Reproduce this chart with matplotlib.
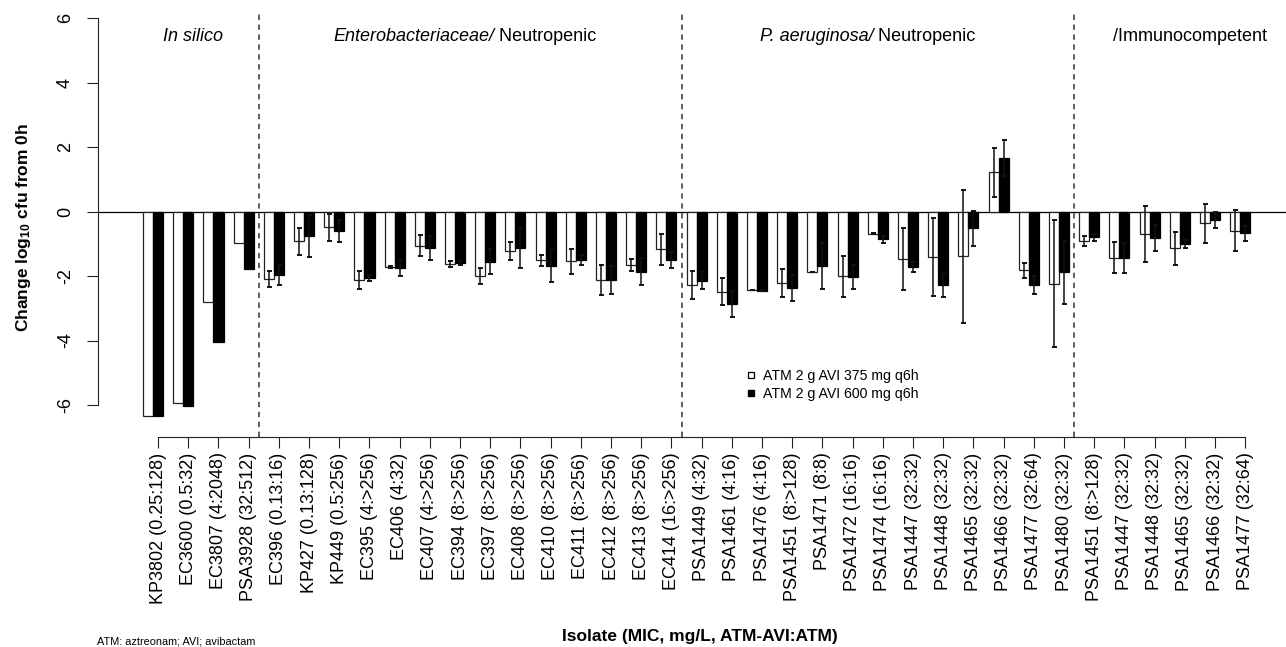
import matplotlib
matplotlib.use("Agg")
import matplotlib.pyplot as plt
from matplotlib.lines import Line2D
import numpy as np

plt.rcParams["font.family"] = ["Liberation Sans", "DejaVu Sans"]
plt.rcParams["mathtext.fontset"] = "custom"
plt.rcParams["mathtext.rm"] = "Liberation Sans"
plt.rcParams["mathtext.it"] = "Liberation Sans:italic"
plt.rcParams["mathtext.bf"] = "Liberation Sans:bold"
plt.rcParams["axes.unicode_minus"] = False

# isolate labels (MIC, mg/L, ATM-AVI:ATM)
isolates = [
    "KP3802 (0.25:128)", "EC3600 (0.5:32)", "EC3807 (4:2048)", "PSA3928 (32:512)",
    "EC396 (0.13:16)", "KP427 (0.13:128)", "KP449 (0.5:256)", "EC395 (4:>256)",
    "EC406 (4:32)", "EC407 (4:>256)", "EC394 (8:>256)", "EC397 (8:>256)",
    "EC408 (8:>256)", "EC410 (8:>256)", "EC411 (8:>256)", "EC412 (8:>256)",
    "EC413 (8:>256)", "EC414 (16:>256)",
    "PSA1449 (4:32)", "PSA1461 (4:16)", "PSA1476 (4:16)", "PSA1451 (8:>128)",
    "PSA1471 (8:8)", "PSA1472 (16:16)", "PSA1474 (16:16)", "PSA1447 (32:32)",
    "PSA1448 (32:32)", "PSA1465 (32:32)", "PSA1466 (32:32)", "PSA1477 (32:64)",
    "PSA1480 (32:32)",
    "PSA1451 (8:>128)", "PSA1447 (32:32)", "PSA1448 (32:32)", "PSA1465 (32:32)",
    "PSA1466 (32:32)", "PSA1477 (32:64)",
]

# ATM 2 g AVI 375 mg q6h
avi375 = [-6.35, -5.93, -2.81, -0.96,
          -2.10, -0.92, -0.49, -2.12, -1.72, -1.06, -1.62, -2.00, -1.21, -1.51,
          -1.54, -2.13, -1.66, -1.17,
          -2.28, -2.49, -2.43, -2.22, -1.88, -2.00, -0.68, -1.46, -1.41, -1.38,
          1.22, -1.82, -2.23,
          -0.91, -1.43, -0.69, -1.14, -0.36, -0.59]
sd375 = [np.nan, np.nan, np.nan, np.nan,
         0.25, 0.41, 0.43, 0.28, 0.02, 0.33, 0.10, 0.24, 0.28, 0.18,
         0.39, 0.46, 0.18, 0.47,
         0.43, 0.42, 0.0, 0.43, 0.0, 0.64, 0.02, 0.96, 1.22, 2.06,
         0.76, 0.24, 1.97,
         0.15, 0.48, 0.88, 0.52, 0.60, 0.64]

# ATM 2 g AVI 600 mg q6h
avi600 = [-6.35, -6.02, -4.03, -1.77,
          -1.98, -0.75, -0.60, -2.05, -1.74, -1.12, -1.59, -1.55, -1.12, -1.69,
          -1.50, -2.12, -1.86, -1.50,
          -2.14, -2.86, -2.45, -2.37, -1.68, -2.04, -0.86, -1.72, -2.28, -0.52,
          1.67, -2.28, -1.88,
          -0.80, -1.43, -0.81, -1.00, -0.26, -0.67]
sd600 = [np.nan, np.nan, np.nan, np.nan,
         0.31, 0.65, 0.33, 0.10, 0.25, 0.38, 0.06, 0.38, 0.62, 0.50,
         0.16, 0.42, 0.41, 0.26,
         0.27, 0.41, 0.02, 0.39, 0.72, 0.37, 0.11, 0.15, 0.36, 0.54,
         0.55, 0.29, 0.98,
         0.11, 0.47, 0.41, 0.12, 0.26, 0.23]

# panel titles: (x centre, italic part, upright part)
group_titles = [
    (6, "In silico", ""),
    (33, "Enterobacteriaceae/", " Neutropenic"),
    (73, "P. aeruginosa/", " Neutropenic"),
    (105, "", "/Immunocompetent"),
]
group_breaks = [4, 18, 31]  # first isolate of each new panel

W, H = 1286, 647
fig = plt.figure(figsize=(W / 100, H / 100), dpi=100)
ax = fig.add_axes([98.3 / W, 1 - 437.2 / H, (1305 - 98.3) / W, (437.2 - 2.3) / H])

n = len(isolates)
idx = np.arange(n)
x_lo = 1.5 + 3 * idx
x_hi = 2.5 + 3 * idx

ax.bar(x_lo, avi375, width=1.0, color="white", edgecolor="#222222", linewidth=0.9, zorder=2)
ax.bar(x_hi, avi600, width=1.0, color="black", edgecolor="black", linewidth=0.9, zorder=2)

m = ~np.isnan(np.array(sd375))
ekw = dict(fmt="none", ecolor="#111111", elinewidth=1.1, capsize=1.8, capthick=1.4, zorder=3)
ax.errorbar(x_lo[m], np.array(avi375)[m], yerr=np.array(sd375)[m], **ekw)
ax.errorbar(x_hi[m], np.array(avi600)[m], yerr=np.array(sd600)[m], **ekw)

ax.axhline(0, color="black", linewidth=0.9, zorder=1)
ax.vlines([3 * b + 0.5 for b in group_breaks], -7.0, 6.15, color="#333333", linewidth=1.1,
          linestyle=(0, (3.5, 3)), zorder=1)

ax.set_xlim(-3.44, 116.44)
ax.set_ylim(-7.0, 6.5)

for s in ["top", "right"]:
    ax.spines[s].set_visible(False)
ax.spines["left"].set_bounds(-6, 6)
ax.spines["bottom"].set_bounds(x_hi[0], x_hi[-1])
for s in ["left", "bottom"]:
    ax.spines[s].set_linewidth(0.8)
    ax.spines[s].set_color("#222222")

ax.set_yticks(np.arange(-6, 7, 2))
ax.set_yticklabels([str(v) for v in range(-6, 7, 2)])
ax.set_xticks(x_hi)
ax.set_xticklabels(isolates, rotation=90, ha="center", va="top")
ax.tick_params(axis="x", length=8, width=0.8, pad=3, labelsize=13, color="#222222")
ax.tick_params(axis="y", length=8, width=0.8, pad=9.5, labelsize=13, color="#222222")
for lab in ax.get_yticklabels():
    lab.set_rotation(90)
    lab.set_va("center")

# panel titles, italic + upright pieces laid side by side and centred
fig.canvas.draw()
renderer = fig.canvas.get_renderer()
for xc, it_txt, rm_txt in group_titles:
    x0 = ax.transData.transform((xc, 5.45))
    t1 = ax.text(0, 0, it_txt, style="italic", fontsize=13, ha="left", va="center",
                 transform=None)
    t2 = ax.text(0, 0, rm_txt, fontsize=13, ha="left", va="center", transform=None)
    w1 = t1.get_window_extent(renderer).width if it_txt else 0
    w2 = t2.get_window_extent(renderer).width if rm_txt else 0
    left = x0[0] - (w1 + w2) / 2
    t1.set_position((left, x0[1]))
    t2.set_position((left + w1, x0[1]))

fig.text(23.5 / W, 1 - 227 / H, "Change log$_\\mathbf{10}$ cfu from 0h", rotation=90,
         ha="center", va="center", fontsize=12.5, fontweight="bold")
fig.text(700 / W, 1 - 636 / H, "Isolate (MIC, mg/L, ATM-AVI:ATM)", ha="center", va="center",
         fontsize=12.5, fontweight="bold")
fig.text(97 / W, 1 - 641 / H, "ATM: aztreonam; AVI; avibactam", ha="left", va="center", fontsize=7.8)

handles = [
    Line2D([], [], linestyle="none", marker="s", markersize=4.5, markerfacecolor="white",
           markeredgecolor="black", markeredgewidth=0.9),
    Line2D([], [], linestyle="none", marker="s", markersize=4.5, markerfacecolor="black",
           markeredgecolor="black"),
]
fig.legend(handles, ["ATM 2 g AVI 375 mg q6h", "ATM 2 g AVI 600 mg q6h"],
           loc="upper left", bbox_to_anchor=(745 / W, 1 - 369 / H), frameon=False,
           fontsize=10.2, handlelength=0.8, handletextpad=0.45, borderpad=0,
           borderaxespad=0, labelspacing=0.3)

fig.savefig("out.png", dpi=100)
